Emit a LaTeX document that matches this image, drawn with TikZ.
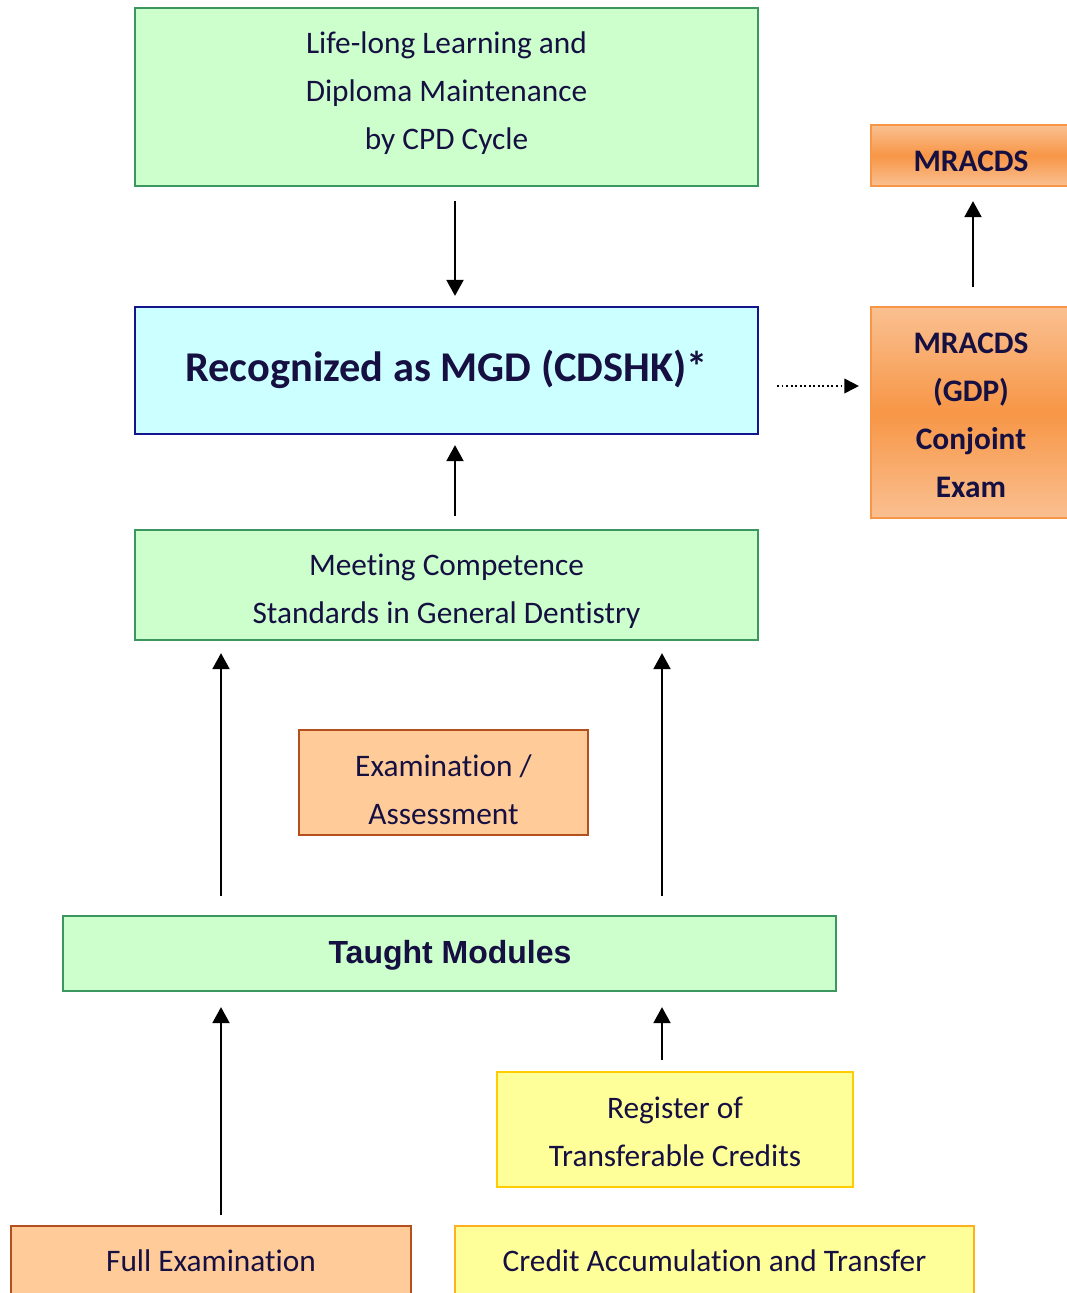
\documentclass[tikz,border=0pt]{standalone}
\usepackage{fontspec}
\setmainfont{Carlito}[Ligatures=CommonOff]
\newfontfamily\arialf{Liberation Sans}
\usetikzlibrary{arrows.meta,calc}
\definecolor{txt}{RGB}{22,16,66}
\definecolor{gfill}{RGB}{204,255,204}
\definecolor{gline}{RGB}{60,150,95}
\definecolor{cfill}{RGB}{204,255,255}
\definecolor{cline}{RGB}{20,20,140}
\definecolor{pfill}{RGB}{255,204,153}
\definecolor{pline}{RGB}{180,80,30}
\definecolor{yfill}{RGB}{255,255,153}
\definecolor{yline}{RGB}{255,204,0}
\definecolor{yline2}{RGB}{255,176,30}
\definecolor{oL}{RGB}{250,192,145}
\definecolor{oD}{RGB}{247,150,70}
\definecolor{oline}{RGB}{247,150,70}
\tikzset{
  bx/.style={rectangle, inner sep=0pt, line width=1.6pt},
  greenbox/.style={bx, draw=gline, fill=gfill},
  cyanbox/.style={bx, draw=cline, fill=cfill},
  peachbox/.style={bx, draw=pline, fill=pfill},
  yelbox/.style={bx, draw=yline, fill=yfill},
  orbox/.style={bx, draw=oline, top color=oL, bottom color=oL, middle color=oD},
  lbl/.style={text=txt, align=center, inner sep=0pt, font=\fontsize{23.5}{36}\selectfont},
  blbl/.style={lbl, font=\fontsize{23.5}{36}\selectfont\bfseries},
  arr/.style={line width=2.2pt, -{Triangle[length=12pt,width=12.5pt]}},
  darr/.style={line width=1.4pt, dotted, -{Triangle[length=11pt,width=11pt]}}
}
\begin{document}
\begin{tikzpicture}[x=0.75pt,y=-0.75pt]
\useasboundingbox (0,0) rectangle (1067,1293);
% boxes (pixel coordinates, centers)
\node[greenbox, minimum width=623*0.75pt, minimum height=178*0.75pt] (lll) at (446.5,97) {};
\node[lbl] (lllt) at (446.5,93) {Life-long Learning and\\ Diploma Maintenance\\by CPD Cycle};
\node[cyanbox, minimum width=623*0.75pt, minimum height=127*0.75pt] (mgd) at (446.5,370.5) {};
\node[lbl, font=\fontsize{31.8}{36}\selectfont\bfseries] (mgdt) at (446.5,369) {Recognized as MGD (CDSHK)*};
\node[orbox, minimum width=206*0.75pt, minimum height=61*0.75pt] (mra) at (974,155.5) {};
\node[blbl] (mrat) at (971,161.5) {MRACDS};
\node[orbox, minimum width=206*0.75pt, minimum height=211*0.75pt] (gdp) at (974,412.5) {};
\node[blbl] (gdpt) at (971,415.5) {MRACDS\\(GDP)\\Conjoint\\Exam};
\node[greenbox, minimum width=623*0.75pt, minimum height=110*0.75pt] (mcs) at (446.5,585) {};
\node[lbl] (mcst) at (446.5,591) {Meeting Competence\\Standards in General Dentistry};
\node[peachbox, minimum width=289*0.75pt, minimum height=105*0.75pt] (exa) at (443.5,782.5) {};
\node[lbl] (exat) at (443.5,789.5) {Examination /\\Assessment};
\node[greenbox, minimum width=773*0.75pt, minimum height=75*0.75pt] (tm) at (449.5,953.5) {};
\node[lbl, font=\arialf\fontsize{24}{30}\selectfont\bfseries] (tmt) at (450,955) {Taught Modules};
\node[yelbox, minimum width=356*0.75pt, minimum height=115*0.75pt] (reg) at (675,1129.5) {};
\node[lbl] (regt) at (675,1131.5) {Register of\\Transferable Credits};
\node[peachbox, minimum width=400*0.75pt, minimum height=80*0.75pt] (fe) at (211,1266) {};
\node[lbl] (fet) at (211,1261) {Full Examination};
\node[bx, draw=yline2, fill=yfill, minimum width=519*0.75pt, minimum height=80*0.75pt] (cat) at (714.5,1266) {};
\node[lbl] (catt) at (714.5,1261) {Credit Accumulation and Transfer};
% helper x positions
\coordinate (xa) at (455,0);
\coordinate (xl) at (221,0);
\coordinate (xr) at (662,0);
\coordinate (xm) at (973,0);
\coordinate (yd) at (0,386);
% connectors
\draw[arr, shorten <=14*0.75pt, shorten >=10*0.75pt] (lll.south -| xa) -- (mgd.north -| xa);
\draw[arr, shorten <=13*0.75pt, shorten >=10*0.75pt] (mcs.north -| xa) -- (mgd.south -| xa);
\draw[arr, shorten <=19*0.75pt, shorten >=12*0.75pt] (tm.north -| xl) -- (mcs.south -| xl);
\draw[arr, shorten <=19*0.75pt, shorten >=12*0.75pt] (tm.north -| xr) -- (mcs.south -| xr);
\draw[arr, shorten <=10*0.75pt, shorten >=15*0.75pt] (fe.north -| xl) -- (tm.south -| xl);
\draw[arr, shorten <=11*0.75pt, shorten >=15*0.75pt] (reg.north -| xr) -- (tm.south -| xr);
\draw[arr, shorten <=19*0.75pt, shorten >=14*0.75pt] (gdp.north -| xm) -- (mra.south -| xm);
\draw[darr, shorten <=18*0.75pt, shorten >=11*0.75pt] (mgd.east |- yd) -- (gdp.west |- yd);
\end{tikzpicture}
\end{document}
